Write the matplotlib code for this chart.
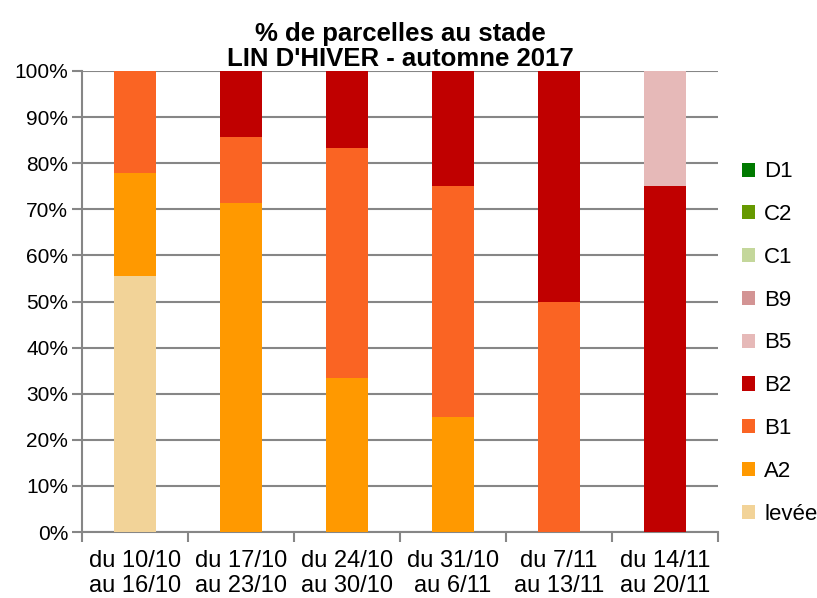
import matplotlib
matplotlib.use("Agg")
import matplotlib.pyplot as plt
import numpy as np

plt.rcParams['font.family'] = ['Liberation Sans', 'DejaVu Sans']

categories = ["du 10/10\nau 16/10", "du 17/10\nau 23/10", "du 24/10\nau 30/10",
              "du 31/10\nau 6/11", "du 7/11\nau 13/11", "du 14/11\nau 20/11"]
stages = ["levée", "A2", "B1", "B2", "B5", "B9", "C1", "C2", "D1"]
levee = [55.6, 0, 0, 0, 0, 0]
A2 = [22.2, 71.4, 33.3, 25.0, 0, 0]
B1 = [22.2, 14.3, 50.0, 50.0, 50.0, 0]
B2 = [0, 14.3, 16.7, 25.0, 50.0, 75.0]
B5 = [0, 0, 0, 0, 0, 25.0]
B9 = [0, 0, 0, 0, 0, 0]
C1 = [0, 0, 0, 0, 0, 0]
C2 = [0, 0, 0, 0, 0, 0]
D1 = [0, 0, 0, 0, 0, 0]
series = [levee, A2, B1, B2, B5, B9, C1, C2, D1]
colors = ["#F2D398", "#FF9900", "#FA6423", "#C00000", "#E6B9B8",
          "#D39494", "#C4D79B", "#669900", "#007A00"]
title = "% de parcelles au stade\nLIN D'HIVER - automne 2017"

fig = plt.figure(figsize=(8.17, 5.98), dpi=100)
ax = fig.add_axes([82/817, 66/598, 636/817, 461/598])

x = np.arange(len(categories))
bottom = np.zeros(len(categories))
handles = []
for name, vals, col in zip(stages, series, colors):
    v = np.array(vals, dtype=float)
    h = ax.bar(x, v, 0.4, bottom=bottom, color=col, label=name, zorder=3, linewidth=0)
    handles.append(h)
    bottom += v

ax.set_xlim(-0.5, len(categories) - 0.5)
ax.set_ylim(0, 100)
ax.set_yticks(np.arange(0, 101, 10))
ax.set_yticklabels([f"{v}%" for v in range(0, 101, 10)], fontsize=15)
ax.yaxis.grid(True, color="#868686", linewidth=1.5, zorder=0)
ax.tick_params(axis='y', length=7, width=1.5, color="#868686", pad=3)

ax.set_xticks(x)
ax.set_xticklabels(categories, fontsize=17, linespacing=1.2)
ax.set_xticks(np.arange(-0.5, len(categories), 1), minor=True)
ax.tick_params(axis='x', which='major', length=0, pad=13)
ax.tick_params(axis='x', which='minor', length=7, width=1.5, color="#868686")

for s in ["top", "right"]:
    ax.spines[s].set_visible(False)
for s in ["left", "bottom"]:
    ax.spines[s].set_color("#868686")
    ax.spines[s].set_linewidth(1.5)

ax.set_title(title, fontsize=18.5, fontweight='bold', pad=1, linespacing=1.05)

leg = fig.legend(handles[::-1], stages[::-1], loc='center left',
                 bbox_to_anchor=(742/817, 1 - 343/598), frameon=False,
                 fontsize=16, handlelength=0.6, handleheight=0.6,
                 handletextpad=0.4, labelspacing=0.98, borderpad=0,
                 borderaxespad=0)

fig.savefig("out.png", dpi=100)
